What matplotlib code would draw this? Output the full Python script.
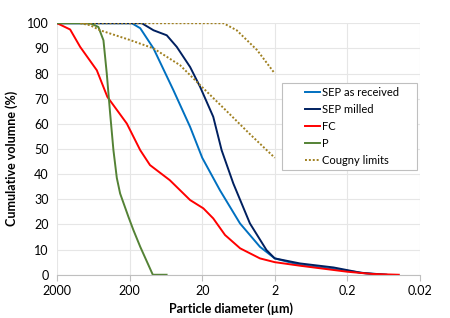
import matplotlib
matplotlib.use("Agg")
import matplotlib.pyplot as plt
from matplotlib.patches import Rectangle
from matplotlib.ticker import FixedLocator, NullLocator

plt.rcParams['font.family'] = ['Lato', 'DejaVu Sans']

# (diameter in um, cumulative volume in %)
sep_recv_d = [2000, 187, 143, 94, 50, 29.4, 20, 11.4, 6.03, 3.2, 2, 0.9, 0.2, 0.11, 0.058]
sep_recv_v = [100, 100, 98, 90, 73.4, 58.8, 46.5, 33.6, 20.4, 11.1, 6.5, 3.9, 1.6, 0.5, 0]

sep_mill_d = [2000, 136, 94, 61.7, 44.9, 29.4, 21.4, 14.1, 10.8, 7.46, 4.4, 2.6, 2, 0.9, 0.31, 0.13, 0.058]
sep_mill_v = [100, 100, 97.2, 95.2, 90.6, 82.6, 74.7, 62.8, 49.5, 36.3, 20.4, 9.8, 6.5, 4.5, 2.9, 0.8, 0]

fc_d = [2000, 1324, 964, 568, 406, 219, 143, 105, 56, 29.4, 19.3, 14.1, 9.7, 6.0, 3.2, 2, 0.9, 0.2, 0.09, 0.039]
fc_v = [100, 97.5, 90.6, 81.3, 70.7, 60.1, 49.5, 43.6, 37.6, 29.7, 26.4, 22.4, 15.8, 10.5, 6.5, 5.0, 3.6, 1.2, 0.3, 0]

p_d = [2000, 702, 540, 460, 414, 372, 335, 301, 271, 208, 178, 143, 96, 62]
p_v = [100, 100, 98.5, 93.2, 80, 64.1, 49.5, 38.5, 32.3, 23, 17.8, 11.1, 0, 0]

cougny_hi_d = [900, 20, 10.2, 6.7, 3.5, 2]
cougny_hi_v = [100, 100, 100, 97.2, 89.3, 80]

cougny_lo_d = [964, 702, 512, 197, 94, 40.4, 21.4, 9.7, 4.4, 2]
cougny_lo_v = [100, 99.2, 97.2, 93.3, 90, 83.3, 75.4, 65.7, 55.9, 46.5]

x_ticks = [2000, 200, 20, 2, 0.2, 0.02]
x_labels = ["2000", "200", "20", "2", "0.2", "0.02"]

fig = plt.figure(figsize=(4.5, 3.18), dpi=100)
ax = fig.add_axes([0.127, 0.136, 0.806, 0.791])

gold = "#A08020"
ax.plot(sep_recv_d, sep_recv_v, color="#0070C0", lw=1.4, label="SEP as received")
ax.plot(sep_mill_d, sep_mill_v, color="#002060", lw=1.4, label="SEP milled")
ax.plot(fc_d, fc_v, color="#FF0000", lw=1.4, label="FC")
ax.plot(p_d, p_v, color="#548235", lw=1.4, label="P")
ax.plot(cougny_hi_d, cougny_hi_v, color=gold, lw=1.4, ls=(0, (1, 1)), label="Cougny limits")
ax.plot(cougny_lo_d, cougny_lo_v, color=gold, lw=1.4, ls=(0, (1, 1)))

ax.set_xscale("log")
ax.set_xlim(2000, 0.02)
ax.set_ylim(0, 100)
ax.xaxis.set_major_locator(FixedLocator(x_ticks))
ax.xaxis.set_minor_locator(NullLocator())
ax.set_xticklabels(x_labels)
ax.set_yticks(range(0, 101, 10))

ax.grid(True, color="#E6E6E6", lw=0.8)
ax.set_axisbelow(True)
for s in ["top", "right", "left"]:
    ax.spines[s].set_visible(False)
ax.spines["bottom"].set_color("#BFBFBF")
ax.tick_params(axis="x", colors="#BFBFBF", labelcolor="black", length=4, labelsize=9)
ax.tick_params(axis="y", length=0, labelsize=9, pad=6)

ax.set_xlabel("Particle diameter (µm)", fontsize=9, fontweight="bold")
ax.set_ylabel("Cumulative volumne (%)", fontsize=9, fontweight="bold")
ax.xaxis.set_label_coords(0.479, -0.11)
ax.yaxis.set_label_coords(-0.107, 0.464)

# legend box drawn by hand, wider than the entries like in the original
ax.add_patch(Rectangle((0.619, 0.416), 0.372, 0.345, transform=ax.transAxes,
                       facecolor="white", edgecolor="#BFBFBF", lw=0.8, zorder=4))
leg = ax.legend(loc="center left", bbox_to_anchor=(0.683, 0.589), fontsize=8,
                frameon=False, handlelength=1.35, handletextpad=0.15,
                borderpad=0, labelspacing=0.55, borderaxespad=0)
leg.set_zorder(5)

fig.savefig("out.png", dpi=100)
